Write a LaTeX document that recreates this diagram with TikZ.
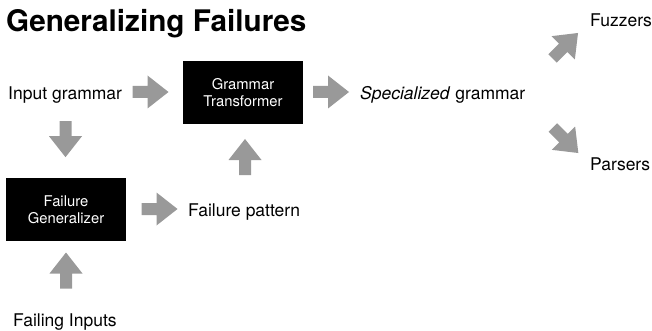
\documentclass[tikz,border=0pt]{standalone}
\usepackage{fontspec}
\setmainfont{TeX Gyre Heros}
\definecolor{arrowgray}{RGB}{153,153,153}
\begin{document}
\begin{tikzpicture}[x=1pt,y=-1pt,
  label/.style={font=\fontsize{17.5}{21}\selectfont, inner sep=0pt},
  blackbox/.style={fill=black, text=white, minimum width=120pt, minimum height=63pt,
    inner sep=0pt, align=center, font=\fontsize{14.8}{17.5}\selectfont},
  barrow/.pic={\fill[arrowgray] (-18,-6) -- (-3,-6) -- (-3,-16.5) -- (18,0)
    -- (-3,16.5) -- (-3,6) -- (-18,6) -- cycle;}]
\useasboundingbox (0,0) rectangle (652,331);

% title
\node[anchor=base west, inner sep=0pt, font=\fontsize{29.7}{34}\bfseries\selectfont]
  (title) at (6,31.5) {Generalizing Failures};

% processing blocks
\node[blackbox] (gt) at (243,92.5) {Grammar\\Transformer};
\node[blackbox] (fg) at (66,209.5) {Failure\\Generalizer};

% plain labels
\node[label, anchor=base west] (inp)  at (8,100)   {Input grammar};
\node[label, anchor=base west] (spec) at (360,99.5) {\textit{Specialized} grammar};
\node[label, anchor=base west] (fuzz) at (590,27)  {Fuzzers};
\node[label, anchor=base west] (pars) at (590,170) {Parsers};
\node[label, anchor=base west] (pat)  at (188,216.5) {Failure pattern};
\node[label, anchor=base west] (fail) at (13,326.5) {Failing Inputs};

% block arrows between the stages
\pic at (150.5,92) {barrow};             % input grammar -> transformer
\pic at (331,92) {barrow};               % transformer -> specialized grammar
\pic[rotate=45] at (565.3,45.7) {barrow};  % -> fuzzers
\pic[rotate=-45] at (565.6,140.3) {barrow};% -> parsers
\pic[rotate=-90] at (65.5,139.2) {barrow}; % input grammar -> generalizer
\pic at (159.5,209) {barrow};            % generalizer -> failure pattern
\pic[rotate=90] at (245,157) {barrow};   % failure pattern -> transformer
\pic[rotate=90] at (66,270.5) {barrow};  % failing inputs -> generalizer
\end{tikzpicture}
\end{document}
